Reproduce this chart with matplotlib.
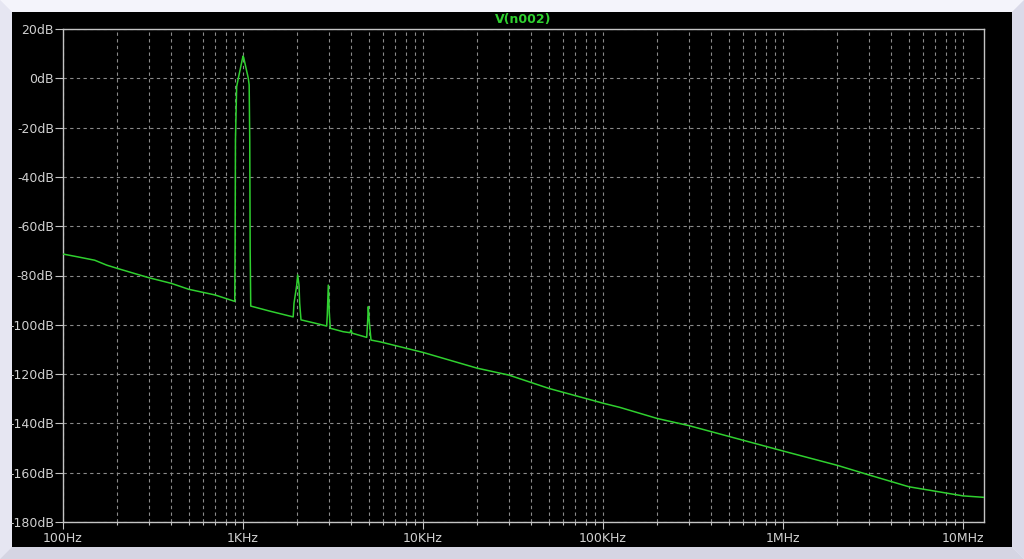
import matplotlib.pyplot as plt
from matplotlib.patches import Polygon, Rectangle
from matplotlib.ticker import FixedLocator, FixedFormatter, NullFormatter

# FFT trace
trace_freq = [
    100, 120, 150, 175, 200, 250, 300, 400, 500, 700, 900,
    904, 908, 922, 943, 1000, 1008, 1070, 1082, 1090, 1096, 1104,
    1400, 1900, 1920, 1988, 2013, 2047, 2065, 2100,
    2500, 2917, 2939, 2978, 3016, 3055,
    3600, 3930, 3981, 4040,
    4867, 4930, 4968, 5020, 5142,
    5770, 10000, 20000, 30000, 50000, 100000, 124000, 200000, 300000,
    1000000, 2000000, 3000000, 5000000, 10000000, 13080000,
]
trace_db = [
    -71.3, -72.4, -73.8, -75.8, -77.1, -79.2, -80.9, -83.2, -85.6, -87.9, -90.5,
    -68.0, -25.0, -3.4, 0.2, 9.0, 8.5, 0.0, -2.7, -25.0, -69.7, -92.4,
    -94.4, -96.8, -91.3, -83.9, -79.8, -83.9, -91.3, -98.0,
    -99.3, -100.5, -96.0, -83.9, -95.3, -101.4,
    -102.8, -103.2, -102.1, -103.4,
    -105.1, -98.0, -92.6, -98.0, -106.2,
    -106.9, -111.2, -117.6, -120.4, -125.8, -131.8, -133.5, -138.0, -140.9,
    -151.2, -157.0, -160.9, -165.7, -169.4, -170.0,
]

x_ticks = [1e2, 1e3, 1e4, 1e5, 1e6, 1e7]
x_tick_labels = ['100Hz', '1KHz', '10KHz', '100KHz', '1MHz', '10MHz']
y_ticks = list(range(20, -181, -20))
y_tick_labels = [f'{v}dB' for v in y_ticks]
trace_name = 'V(n002)'

W, H = 1024, 559
GREEN = '#2fd02f'
GRID = '#8a8a8a'
FRAME = '#c4c4c4'
LABEL = '#d0d0d0'


def px(x, y):
    """pixel (from top-left) -> figure fraction"""
    return x / W, 1 - y / H


def draw_window(fig):
    """
    Bevelled window border and black plot pane
    """
    m = 12
    c = {
        'tl': px(0, 0), 'tr': px(W, 0), 'bl': px(0, H), 'br': px(W, H),
        'itl': px(m, m), 'itr': px(W - m, m), 'ibl': px(m, H - m), 'ibr': px(W - m, H - m),
    }
    sides = [
        ([c['tl'], c['tr'], c['itr'], c['itl']], '#f4f4fb'),
        ([c['tl'], c['itl'], c['ibl'], c['bl']], '#e6e6f2'),
        ([c['bl'], c['ibl'], c['ibr'], c['br']], '#d5d5e3'),
        ([c['tr'], c['br'], c['ibr'], c['itr']], '#dadae9'),
    ]
    for pts, col in sides:
        fig.patches.append(Polygon(pts, closed=True, transform=fig.transFigure,
                                   facecolor=col, edgecolor='none', zorder=-2))
    x0, y0 = px(m, H - m)
    fig.patches.append(Rectangle((x0, y0), (W - 2 * m) / W, (H - 2 * m) / H,
                                 transform=fig.transFigure, facecolor='black',
                                 edgecolor='none', zorder=-1))


def plot_fft():
    fig = plt.figure(figsize=(W / 100, H / 100), dpi=100, facecolor='#f0f0f8')
    draw_window(fig)

    left, top = px(63, 29)
    right, bottom = px(984, 522)
    ax = fig.add_axes([left, bottom, right - left, top - bottom])
    ax.set_facecolor('black')

    ax.plot(trace_freq, trace_db, color=GREEN, lw=1.1, zorder=3)

    ax.set_xscale('log')
    ax.set_xlim(100, 1.308e7)
    ax.set_ylim(-180, 20)

    ax.xaxis.set_major_locator(FixedLocator(x_ticks))
    ax.xaxis.set_major_formatter(FixedFormatter(x_tick_labels))
    ax.xaxis.set_minor_locator(FixedLocator([m * d for d in x_ticks for m in range(2, 10)]))
    ax.xaxis.set_minor_formatter(NullFormatter())
    ax.yaxis.set_major_locator(FixedLocator(y_ticks))
    ax.yaxis.set_major_formatter(FixedFormatter(y_tick_labels))

    ax.tick_params(axis='x', which='major', direction='out', length=5, width=0.8,
                   color=FRAME, labelcolor=LABEL, labelsize=9, pad=2)
    ax.tick_params(axis='x', which='minor', direction='out', length=2.5, width=0.8,
                   color=FRAME)
    ax.tick_params(axis='y', direction='out', length=6, width=0.8,
                   color=FRAME, labelcolor=LABEL, labelsize=9, pad=0.5)

    ax.grid(True, which='both', axis='x', color=GRID, lw=0.8, dashes=(3, 3))
    ax.grid(True, which='major', axis='y', color=GRID, lw=0.8, dashes=(3, 3))
    ax.set_axisbelow(True)

    for s in ax.spines.values():
        s.set_color(FRAME)
        s.set_linewidth(1.0)

    tx, ty = px((63 + 984) / 2, 19)
    fig.text(tx, ty, trace_name, color=GREEN, fontsize=9, fontweight='bold',
             ha='center', va='center')

    fig.savefig('out.png', dpi=100, facecolor=fig.get_facecolor())


if __name__ == '__main__':
    plot_fft()
